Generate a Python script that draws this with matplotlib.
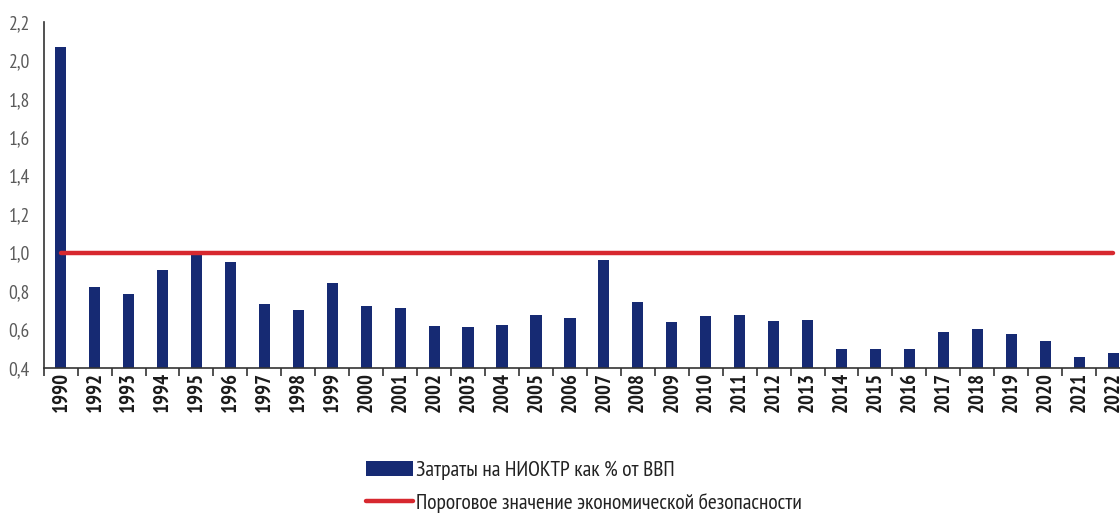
import numpy as np
import matplotlib.pyplot as plt
from matplotlib.ticker import FuncFormatter
from matplotlib.patches import Patch
from matplotlib.lines import Line2D

plt.rcParams['font.family'] = ['PT Sans Narrow', 'Roboto Condensed', 'Liberation Sans Narrow', 'DejaVu Sans']

# data
years = ['1990'] + [str(y) for y in range(1992, 2023)]
rnd_share = [2.07, 0.82, 0.785, 0.91, 0.99, 0.95, 0.73, 0.70, 0.84, 0.72,
             0.71, 0.62, 0.61, 0.625, 0.676, 0.66, 0.96, 0.74, 0.64, 0.67,
             0.676, 0.645, 0.65, 0.50, 0.497, 0.497, 0.586, 0.60, 0.577,
             0.537, 0.457, 0.476]
threshold = [1.0] * len(years)

bar_color = '#162a73'
line_color = '#d7282f'
bar_label = 'Затраты на НИОКТР как % от ВВП'
line_label = 'Пороговое значение экономической безопасности'

fig = plt.figure(figsize=(11.2, 5.18), dpi=100)
ax = fig.add_axes([0.039, 0.29, 0.97, 0.6675])

x = np.arange(len(years))
ax.bar(x, rnd_share, width=0.33, color=bar_color, zorder=2)
ax.plot(x, threshold, color=line_color, lw=3.2, solid_capstyle='round', zorder=3)

ax.set_ylim(0.4, 2.2)
ax.set_yticks(np.arange(0.4, 2.21, 0.2))
ax.yaxis.set_major_formatter(FuncFormatter(lambda v, p: f'{v:.1f}'.replace('.', ',')))
ax.set_xlim(-0.5, len(years) - 0.5)

ax.set_xticks(x)
ax.set_xticklabels(years, rotation=90, fontsize=15, fontweight='bold', color='#1a1a1a')
ax.set_xticks(np.arange(-0.5, len(years), 1), minor=True)
ax.tick_params(axis='x', which='major', length=0, pad=3)
ax.tick_params(axis='x', which='minor', length=6, width=1.2, color='#333333', direction='out')
ax.tick_params(axis='y', length=0, labelsize=14, labelcolor='#5a5a5a', pad=10)

for s in ['top', 'right']:
    ax.spines[s].set_visible(False)
for s in ['left', 'bottom']:
    ax.spines[s].set_color('#333333')
    ax.spines[s].set_linewidth(1.2)

handles = [Patch(facecolor=bar_color), Line2D([], [], color=line_color, lw=3.2, solid_capstyle='round')]
leg = fig.legend(handles, [bar_label, line_label], loc='upper left',
                 bbox_to_anchor=(0.317, 0.131), frameon=False, borderpad=0,
                 fontsize=15.5, handlelength=2.2, handletextpad=0.15, labelspacing=0.6)
for t in leg.get_texts():
    t.set_color('#222222')

fig.savefig('out.png', dpi=100)
